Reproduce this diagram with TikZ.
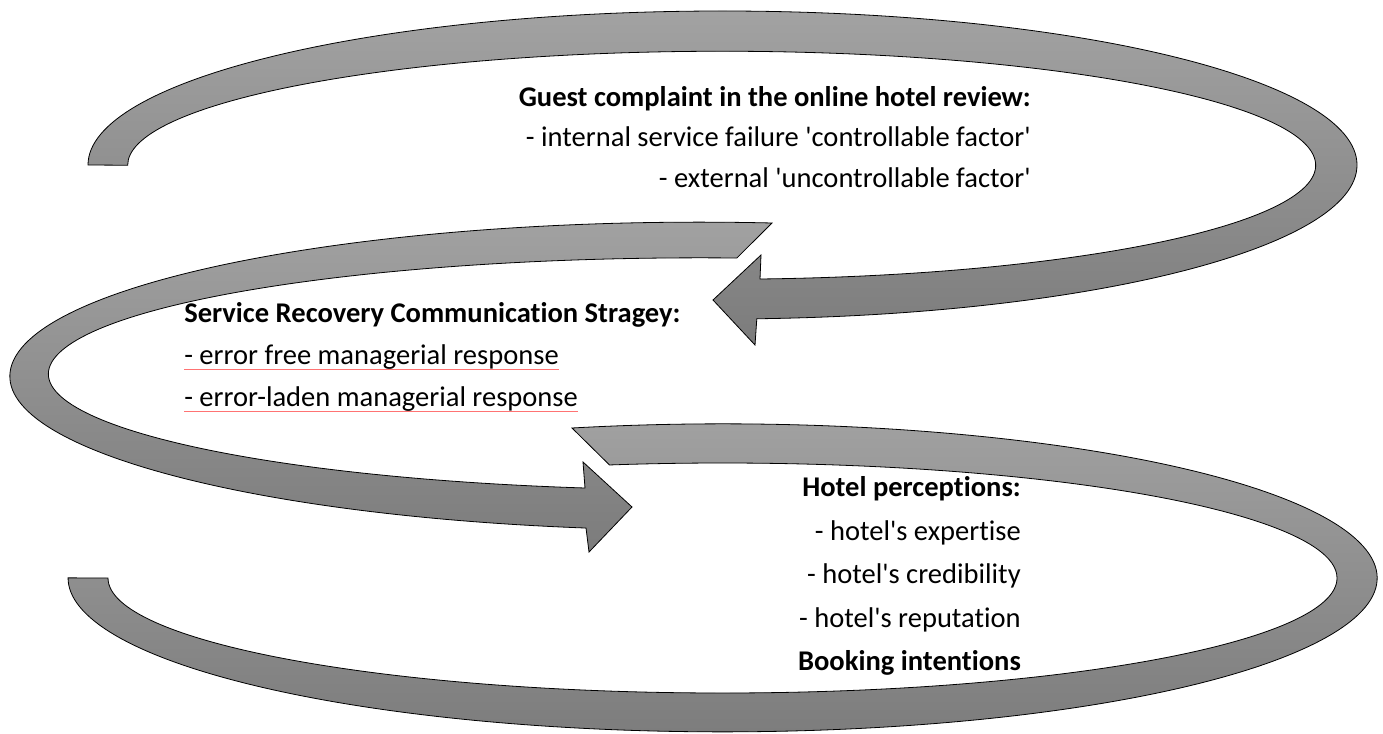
\documentclass[tikz,border=0pt]{standalone}
\usepackage{fontspec}
\setmainfont{Carlito}[Ligatures={TeX,NoCommon}]
\usepackage{xcolor}
\usetikzlibrary{calc}

\definecolor{bandtop}{RGB}{162,162,162}
\definecolor{bandbottom}{RGB}{124,124,124}

\begin{document}
\begin{tikzpicture}[x=0.75pt,y=0.75pt,yscale=-1,xscale=1,
    band/.style={draw=black, line width=0.6pt, line join=miter, top color=bandtop, bottom color=bandbottom},
    txt/.style={inner sep=0pt, font=\fontsize{21.4}{25.7}\selectfont},
    spellline/.style={draw=red!55, line width=0.5pt}]
    \useasboundingbox (0,0) rectangle (1383,734);

    %Shape: Curved Arrow [top, pointing left]
    \draw [band] (88,165) arc[start angle=180, end angle=446.9, x radius=634.5, y radius=154] -- (755,345) -- (713,300) -- (761,255) -- (760,279) arc[start angle=446.3, end angle=180, x radius=594, y radius=114] -- cycle ;
    %Shape: Curved Arrow [middle, pointing right]
    \draw [band] (772,223) arc[start angle=276, end angle=99.5, x radius=690, y radius=154] -- (589,552) -- (632,507) -- (583,462) -- (585,488) arc[start angle=100.2, end angle=273.2, x radius=652, y radius=116] -- cycle ;
    %Shape: Curved Band [bottom]
    \draw [band] (572,428) arc[start angle=256.7, end angle=540, x radius=654.5, y radius=154] -- (108,578) arc[start angle=540, end angle=259.4, x radius=614.5, y radius=115] -- cycle ;

    % Text Node
    \node (guest) [txt, anchor=base east] at (1031,107) {\textbf{Guest complaint in the online hotel review:}};
    % Text Node
    \node (internal) [txt, anchor=base east] at (1031,147) {- internal service failure \textquotesingle controllable factor\textquotesingle};
    % Text Node
    \node (external) [txt, anchor=base east] at (1031,188) {- external \textquotesingle uncontrollable factor\textquotesingle};

    % Text Node
    \node (srcs) [txt, anchor=base west] at (184,322) {\textbf{Service Recovery Communication Stragey:}};
    % Text Node
    \node (errfree) [txt, anchor=base west] at (184,364) {- error free managerial response};
    % Text Node
    \node (errladen) [txt, anchor=base west] at (184,406) {- error-laden managerial response};
    \draw [spellline] ($(errfree.base west)+(0,5)$) -- ($(errfree.base east)+(0,5)$) ;
    \draw [spellline] ($(errladen.base west)+(0,5)$) -- ($(errladen.base east)+(0,5)$) ;

    % Text Node
    \node (hperc) [txt, anchor=base east] at (1021,496) {\textbf{Hotel perceptions:}};
    % Text Node
    \node (expertise) [txt, anchor=base east] at (1021,540) {- hotel\textquotesingle s expertise};
    % Text Node
    \node (credibility) [txt, anchor=base east] at (1021,583) {- hotel\textquotesingle s credibility};
    % Text Node
    \node (reputation) [txt, anchor=base east] at (1021,627) {- hotel\textquotesingle s reputation};
    % Text Node
    \node (booking) [txt, anchor=base east] at (1021,670) {\textbf{Booking intentions}};

\end{tikzpicture}
\end{document}
